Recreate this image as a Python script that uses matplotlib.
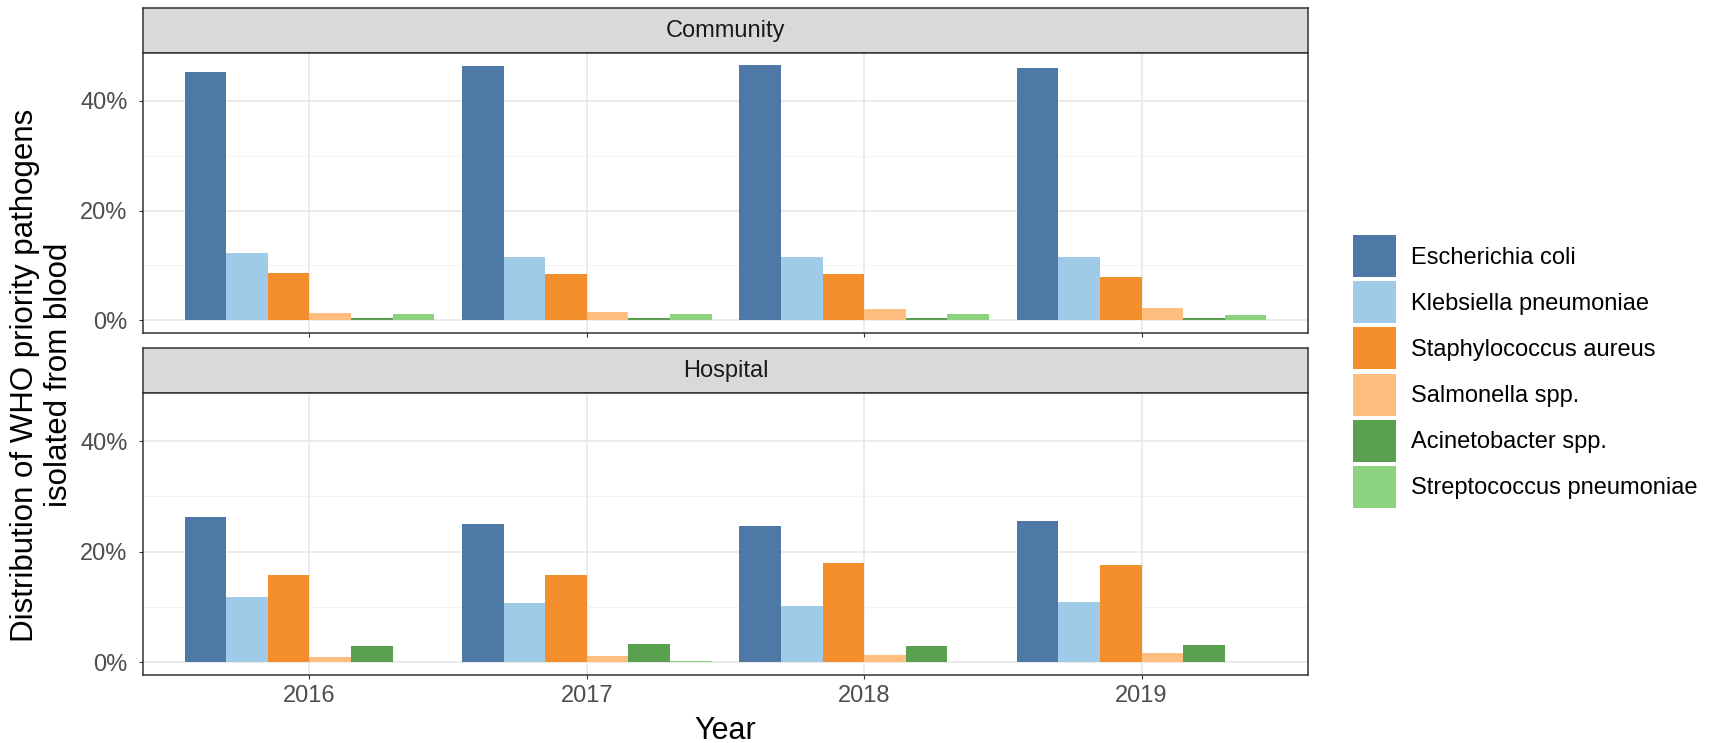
import matplotlib
matplotlib.use("Agg")
import matplotlib.pyplot as plt
from matplotlib.patches import Patch
from matplotlib.ticker import FuncFormatter
import numpy as np

plt.rcParams["font.family"] = ["Liberation Sans", "DejaVu Sans"]

years = ["2016", "2017", "2018", "2019"]
settings = ["Community", "Hospital"]
species = ["Escherichia coli", "Klebsiella pneumoniae", "Staphylococcus aureus",
           "Salmonella spp.", "Acinetobacter spp.", "Streptococcus pneumoniae"]
colors = ["#4E79A7", "#A0CBE8", "#F28E2B", "#FFBE7D", "#59A14F", "#8CD17D"]

# percentage of isolates per species, one list per year
community = {
    "Escherichia coli":         [45.2, 46.4, 46.5, 46.0],
    "Klebsiella pneumoniae":    [12.2, 11.6, 11.5, 11.6],
    "Staphylococcus aureus":    [8.6, 8.4, 8.4, 7.9],
    "Salmonella spp.":          [1.4, 1.5, 2.0, 2.3],
    "Acinetobacter spp.":       [0.5, 0.5, 0.5, 0.5],
    "Streptococcus pneumoniae": [1.2, 1.2, 1.2, 1.0],
}
hospital = {
    "Escherichia coli":         [26.2, 25.0, 24.6, 25.5],
    "Klebsiella pneumoniae":    [11.8, 10.7, 10.2, 10.9],
    "Staphylococcus aureus":    [15.8, 15.8, 17.9, 17.6],
    "Salmonella spp.":          [0.9, 1.15, 1.3, 1.6],
    "Acinetobacter spp.":       [3.0, 3.3, 2.9, 3.1],
    "Streptococcus pneumoniae": [0.1, 0.2, 0.1, 0.1],
}

W, H = 1713, 743
fig = plt.figure(figsize=(W / 100, H / 100), dpi=100)


def px_axes(x0, y0, x1, y1):
    return fig.add_axes([x0 / W, 1 - y1 / H, (x1 - x0) / W, (y1 - y0) / H])


left, right = 143, 1308
layout = [(8, 53, 333), (348, 393, 675)]
border = "#333333"
bw = 0.15
xpos = np.arange(len(years))

for k, (label, data) in enumerate(zip(settings, [community, hospital])):
    s_top, p_top, p_bot = layout[k]

    # facet strip
    sax = px_axes(left, s_top, right, p_top)
    sax.set_facecolor("#D9D9D9")
    sax.set_xticks([])
    sax.set_yticks([])
    for sp in sax.spines.values():
        sp.set_color(border)
        sp.set_linewidth(1.1)
    sax.text(0.5, 0.48, label, ha="center", va="center", fontsize=17,
             color="#1A1A1A", transform=sax.transAxes)

    ax = px_axes(left, p_top, right, p_bot)
    for i, sp_name in enumerate(species):
        ax.bar(xpos + (i - 2.5) * bw, data[sp_name], width=bw, color=colors[i],
               linewidth=0, zorder=3)

    ax.set_xlim(-0.6, 3.6)
    ax.set_ylim(-2.32, 48.7)
    ax.set_yticks([0, 20, 40])
    ax.set_yticks([10, 30], minor=True)
    ax.yaxis.set_major_formatter(FuncFormatter(lambda v, _: f"{v:.0f}%"))
    ax.set_xticks(xpos)
    ax.grid(True, which="major", color="#EBEBEB", lw=1.4, zorder=0)
    ax.grid(True, which="minor", axis="y", color="#F2F2F2", lw=0.8, zorder=0)
    ax.tick_params(which="minor", length=0)
    ax.tick_params(which="major", length=3, color=border, width=0.8,
                   labelsize=17, labelcolor="#4D4D4D")
    ax.tick_params(axis="y", pad=8)
    ax.tick_params(axis="x", pad=4)
    for sp in ax.spines.values():
        sp.set_color(border)
        sp.set_linewidth(1.1)
    if k == 0:
        ax.set_xticklabels([])
    else:
        ax.set_xticklabels(years)

fig.text(42 / W, 1 - 375 / H,
         "Distribution of WHO priority pathogens\nisolated from blood",
         rotation=90, ha="center", va="center", fontsize=22.5, color="black",
         linespacing=1.15)
fig.text((left + right) / 2 / W, 1 - 731 / H, "Year", ha="center", va="center",
         fontsize=22, color="black")

# legend: square keys ~42 px tall on a 46 px pitch
handles = [Patch(facecolor=c, edgecolor="none") for c in colors]
fig.legend(handles, species, loc="center left",
           bbox_to_anchor=(1353 / W, 1 - 371.5 / H), frameon=False,
           fontsize=17, handlelength=1.82, handleheight=2.36,
           handletextpad=0.62, labelspacing=0.17, borderpad=0,
           borderaxespad=0)

fig.savefig("out.png", dpi=100)
